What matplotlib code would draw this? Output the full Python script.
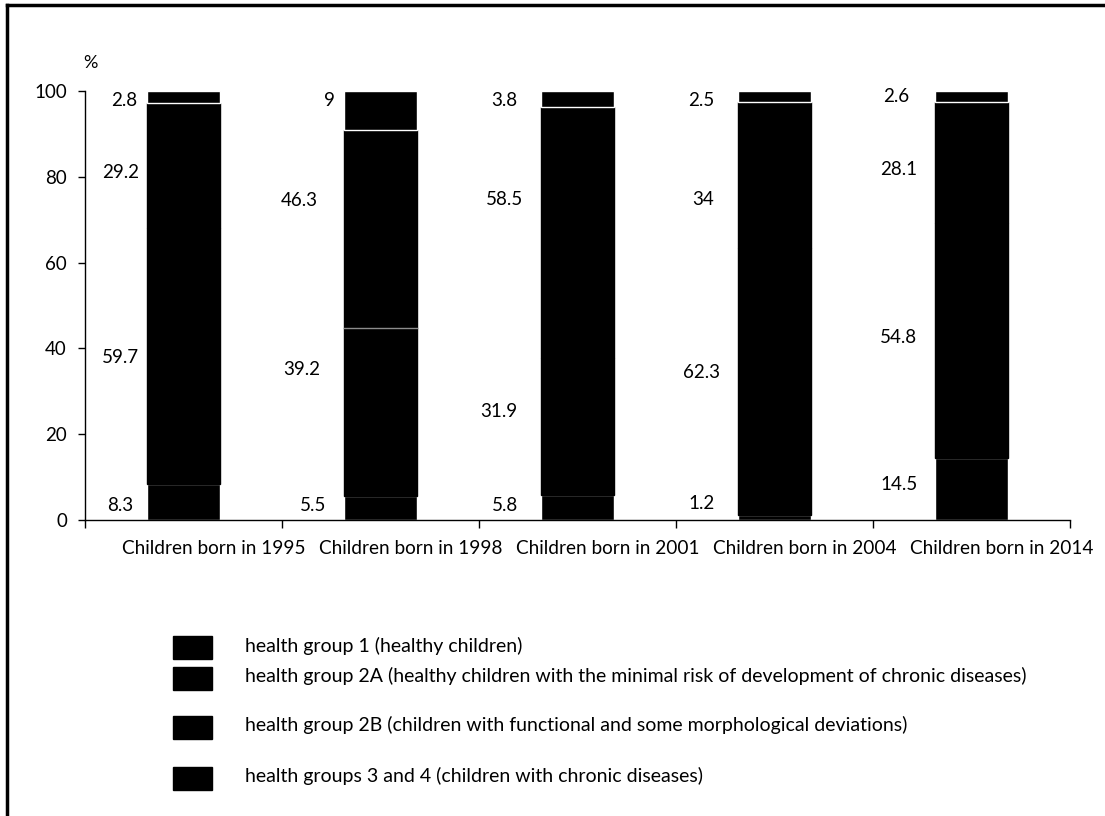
import matplotlib
matplotlib.use("Agg")
import matplotlib.pyplot as plt
from matplotlib.patches import Rectangle
from matplotlib.lines import Line2D
import numpy as np

plt.rcParams["font.family"] = ["Lato", "DejaVu Sans"]

categories = ["Children born in 1995", "Children born in 1998", "Children born in 2001",
              "Children born in 2004", "Children born in 2014"]
group_labels = [
    "health group 1 (healthy children)",
    "health group 2A (healthy children with the minimal risk of development of chronic diseases)",
    "health group 2B (children with functional and some morphological deviations)",
    "health groups 3 and 4 (children with chronic diseases)",
]
group1 = [8.3, 5.5, 5.8, 1.2, 14.5]
group2a = [59.7, 39.2, 31.9, 62.3, 54.8]
group2b = [29.2, 46.3, 58.5, 34.0, 28.1]
group34 = [2.8, 9.0, 3.8, 2.5, 2.6]
series = [group1, group2a, group2b, group34]

# where each value label sits (y in %, x offset from the bar centre)
label_y = [
    [3.3, 37.8, 80.9, 97.7],
    [3.4, 35.0, 74.4, 97.7],
    [3.4, 25.3, 74.6, 97.7],
    [3.9, 34.5, 74.8, 97.7],
    [8.2, 42.6, 81.6, 98.6],
]
label_dx = [
    [-0.32, -0.32, -0.32, -0.30],
    [-0.34, -0.40, -0.41, -0.26],
    [-0.37, -0.40, -0.37, -0.37],
    [-0.37, -0.37, -0.36, -0.37],
    [-0.37, -0.37, -0.37, -0.38],
]
# which segment edges show a white divider
edge_on = [True, False, False, True]

fig = plt.figure(figsize=(11.05, 8.16), dpi=100)
ax = fig.add_axes([0.0769, 0.3627, 0.8914, 0.5258])

x = np.arange(len(categories))
bottom = np.zeros(len(categories))
for k, vals in enumerate(series):
    ax.bar(x, vals, width=0.37, bottom=bottom, color="black",
           edgecolor="white" if edge_on[k] else "black", linewidth=1.0)
    for i, v in enumerate(vals):
        ax.text(x[i] + label_dx[i][k], label_y[i][k], f"{v:g}",
                ha="center", va="center", fontsize=13.5)
    bottom += np.array(vals)

# the 1998 bar also shows a faint line between 2A and 2B
ax.plot([x[1] - 0.185, x[1] + 0.185], [group1[1] + group2a[1]] * 2,
        color="0.55", linewidth=1.0)

ax.set_xlim(-0.5, len(categories) - 0.5)
ax.set_ylim(0, 100)
ax.set_yticks(np.arange(0, 101, 20))
ax.tick_params(axis="y", labelsize=13.5, length=5, width=1, pad=8)
ax.set_xticks(np.arange(-0.5, len(categories), 1.0))
ax.set_xticklabels([])
ax.tick_params(axis="x", length=6, width=1)
for i, cat in enumerate(categories):
    ax.text(x[i] + 0.155, -6.6, cat, ha="center", va="center", fontsize=13.7)
for side in ("top", "right"):
    ax.spines[side].set_visible(False)
ax.spines["left"].set_linewidth(1.0)
ax.spines["bottom"].set_linewidth(1.0)
ax.text(-0.47, 106.5, "%", ha="center", va="center", fontsize=13)

# hand-placed key below the plot
key_y = [0.2059, 0.1691, 0.1085, 0.0460]
for lab, ky in zip(group_labels, key_y):
    fig.patches.append(Rectangle((0.1566, ky - 0.0141), 0.0353, 0.0282,
                                 transform=fig.transFigure, color="black"))
    fig.text(0.2217, ky + 0.0025, lab, ha="left", va="center", fontsize=14)

# outer frame on the top and left edges
fig.lines.append(Line2D([0.0063, 0.0063], [0, 0.9935], transform=fig.transFigure,
                        color="black", linewidth=2.5))
fig.lines.append(Line2D([0.0063, 1.0], [0.9935, 0.9935], transform=fig.transFigure,
                        color="black", linewidth=2.5))

fig.savefig("out.png", dpi=100)
